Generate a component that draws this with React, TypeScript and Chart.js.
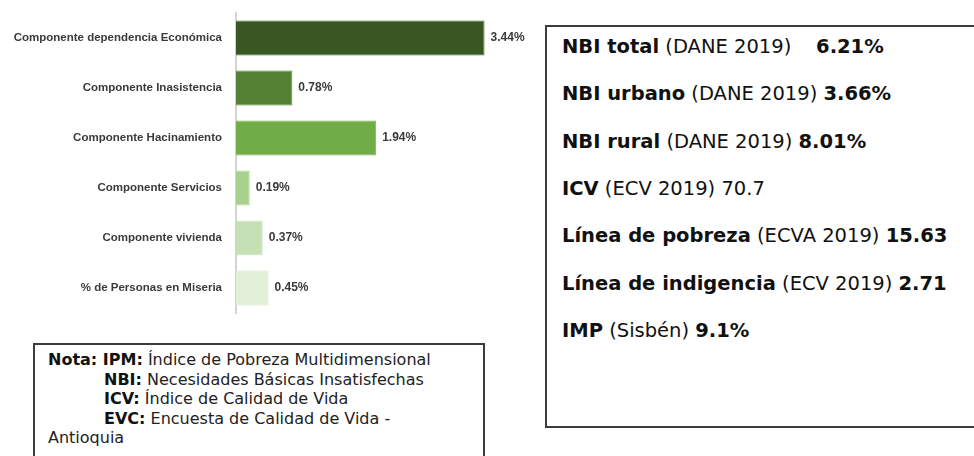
import React, { useEffect, useRef } from "react";
import { Chart, registerables } from "chart.js";

Chart.register(...registerables);

const categories = [
  "Componente dependencia Económica",
  "Componente Inasistencia",
  "Componente Hacinamiento",
  "Componente Servicios",
  "Componente vivienda",
  "% de Personas en Miseria",
];
const values = [3.44, 0.78, 1.94, 0.19, 0.37, 0.45];
const barColors = ["#385723", "#548235", "#70AD47", "#A9D18E", "#C5E0B4", "#E2F0D9"];
const barBorders = ["#4A7A2E", "#5E8F3C", "#7DBA52", "#B3D799", "#CFE6C0", "#D6EACB"];

const indicatorNames = [
  "NBI total",
  "NBI urbano",
  "NBI rural",
  "ICV",
  "Línea de pobreza",
  "Línea de indigencia",
  "IMP",
];
const indicatorSources = [
  " (DANE 2019)    ",
  " (DANE 2019) ",
  " (DANE 2019) ",
  " (ECV 2019) ",
  " (ECVA 2019) ",
  " (ECV 2019) ",
  " (Sisbén) ",
];
const indicatorValues = ["6.21%", "3.66%", "8.01%", "70.7", "15.63", "2.71", "9.1%"];
const indicatorValueBold = [true, true, true, false, true, true, true];

const noteTerms = ["Nota: IPM:", "NBI:", "ICV:", "EVC:"];
const noteDefs = [
  " Índice de Pobreza Multidimensional",
  " Necesidades Básicas Insatisfechas",
  " Índice de Calidad de Vida",
  " Encuesta de Calidad de Vida -",
];
const noteTail = "Antioquia";

const valueLabelPlugin = {
  id: "valueLabels",
  afterDatasetsDraw(chart: any) {
    const ctx = chart.ctx;
    const meta = chart.getDatasetMeta(0);
    ctx.save();
    ctx.font = "bold 12px 'Liberation Sans', Arial, sans-serif";
    ctx.fillStyle = "#3A3A3A";
    ctx.textAlign = "left";
    ctx.textBaseline = "middle";
    meta.data.forEach((el: any, i: number) => {
      const v = chart.data.datasets[0].data[i];
      ctx.fillText(v.toFixed(2) + "%", el.x + 6, el.y);
    });
    ctx.restore();
  },
};

function BarChart() {
  const ref = useRef<HTMLCanvasElement | null>(null);
  useEffect(() => {
    if (!ref.current) return;
    const chart = new Chart(ref.current, {
      type: "bar",
      data: {
        labels: categories,
        datasets: [
          {
            data: values,
            backgroundColor: barColors,
            borderColor: barBorders,
            borderWidth: 1,
            barPercentage: 0.7,
            categoryPercentage: 1,
          },
        ],
      },
      options: {
        indexAxis: "y",
        responsive: false,
        animation: false,
        maintainAspectRatio: false,
        layout: { padding: { left: 0, right: 15, top: 2, bottom: 0 } },
        plugins: {
          legend: { display: false },
          tooltip: { enabled: false },
        },
        scales: {
          x: { display: false, min: 0, max: 4 },
          y: {
            grid: { display: false },
            border: { display: true, color: "#D4D4D4", width: 2 },
            ticks: {
              padding: 6,
              color: "#3A3A3A",
              font: { family: "'Liberation Sans', Arial, sans-serif", size: 11.5, weight: "bold" },
            },
            afterFit: (scale: any) => {
              scale.width = 236;
            },
          },
        },
      },
      plugins: [valueLabelPlugin],
    });
    return () => chart.destroy();
  }, []);
  return <canvas ref={ref} width={540} height={326} style={{ width: 540, height: 326, display: "block" }} />;
}

export default function App() {
  const verdana = "Verdana, 'DejaVu Sans', sans-serif";
  return (
    <div
      style={{
        position: "absolute",
        left: 0,
        top: 0,
        width: 974,
        height: 456,
        overflow: "hidden",
        background: "#fff",
        fontFamily: verdana,
      }}
    >
      <div style={{ position: "absolute", left: 0, top: 0 }}>
        <BarChart />
      </div>

      <div
        style={{
          position: "absolute",
          left: 545,
          top: 25,
          width: 460,
          height: 403,
          border: "2px solid #3C3C3C",
          boxSizing: "border-box",
        }}
      >
        {indicatorNames.map((n, i) => (
          <div
            key={n}
            style={{
              position: "absolute",
              left: 15,
              top: 10 + i * 47.3,
              fontSize: 19.5,
              lineHeight: "20px",
              color: "#111",
              whiteSpace: "pre",
            }}
          >
            <b>{n}</b>
            <span>{indicatorSources[i]}</span>
            {indicatorValueBold[i] ? <b>{indicatorValues[i]}</b> : <span>{indicatorValues[i]}</span>}
          </div>
        ))}
      </div>

      <div
        style={{
          position: "absolute",
          left: 33,
          top: 343,
          width: 452,
          height: 140,
          border: "2px solid #3C3C3C",
          boxSizing: "border-box",
          paddingTop: 5,
          paddingLeft: 13,
          fontSize: 16,
          lineHeight: "19.5px",
          color: "#222",
          whiteSpace: "pre",
        }}
      >
        {noteTerms.map((t, i) => (
          <div key={t} style={{ paddingLeft: i === 0 ? 0 : 56 }}>
            <b style={{ color: "#111" }}>{t}</b>
            <span>{noteDefs[i]}</span>
          </div>
        ))}
        <div>{noteTail}</div>
      </div>
    </div>
  );
}
